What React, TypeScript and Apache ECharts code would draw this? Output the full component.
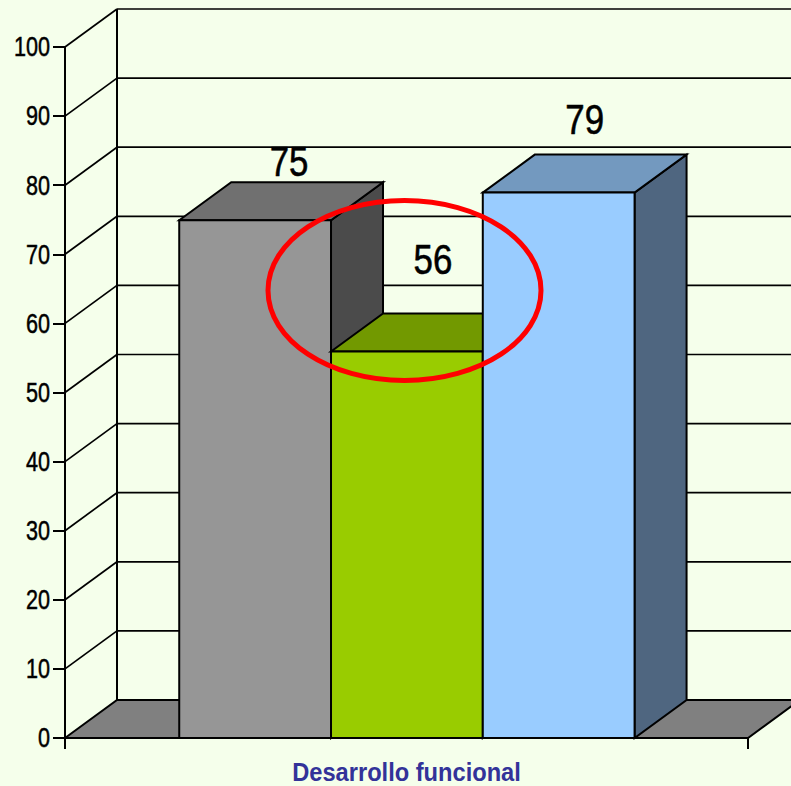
import React, { useEffect, useRef } from "react";
import * as echarts from "echarts";

const categories = ["Desarrollo funcional"];
const barValues = [75, 56, 79];
const yTicks = [0, 10, 20, 30, 40, 50, 60, 70, 80, 90, 100];
const frontColors = ["#969696", "#99CC00", "#99CCFF"];
const topColors = ["#707070", "#729900", "#7399BF"];
const sideColors = ["#4B4B4B", "#4C6600", "#4F6680"];
const labelShift = [[34, -59], [26, -92], [26, -73]];

const DX = 52;
const DY = -38;
const BG = "#F5FFEB";
const FONT = "'Liberation Sans', Arial, sans-serif";

export default function App() {
  const ref = useRef<HTMLDivElement>(null);
  useEffect(() => {
    document.body.style.margin = "0";
    document.body.style.background = BG;
    const chart = echarts.init(ref.current!, null, { renderer: "svg" });
    const line = { stroke: "#000", lineWidth: 1.7, fill: "none" };
    chart.setOption({
      animation: false,
      backgroundColor: BG,
      grid: { left: 65, right: 43, top: 47, bottom: 48, containLabel: false },
      xAxis: {
        type: "category",
        data: categories,
        z: 6,
        axisLine: { lineStyle: { color: "#000", width: 2 } },
        axisTick: { show: true, length: 11, lineStyle: { color: "#000", width: 2 } },
        axisLabel: { show: false },
        splitLine: { show: false },
      },
      yAxis: {
        type: "value",
        min: 0,
        max: 100,
        interval: 10,
        z: 6,
        axisLine: { show: true, lineStyle: { color: "#000", width: 2 } },
        axisTick: { show: true, length: 12, lineStyle: { color: "#000", width: 2 } },
        axisLabel: { show: false },
        splitLine: { show: false },
      },
      graphic: [
        {
          type: "ellipse",
          z: 100,
          shape: { cx: 404.5, cy: 290.5, rx: 136.5, ry: 90 },
          style: { fill: "transparent", stroke: "#FF0000", lineWidth: 5 },
        },
      ],
      series: [
        {
          type: "custom",
          z: 1,
          silent: true,
          data: yTicks.map((v) => [0, v]),
          renderItem: (params: any, api: any) => {
            const cs = params.coordSys;
            const v = api.value(1);
            const y = api.coord([0, v])[1];
            const children: any[] = [];
            if (v === 0) {
              children.push({
                type: "polygon",
                shape: {
                  points: [
                    [cs.x, y],
                    [cs.x + DX, y + DY],
                    [cs.x + cs.width + DX, y + DY],
                    [cs.x + cs.width, y],
                  ],
                },
                style: { fill: "#808080", stroke: "#000", lineWidth: 2 },
              });
            } else {
              children.push({
                type: "line",
                shape: { x1: cs.x, y1: y, x2: cs.x + DX, y2: y + DY },
                style: line,
              });
              children.push({
                type: "line",
                shape: { x1: cs.x + DX, y1: y + DY, x2: cs.x + cs.width + DX, y2: y + DY },
                style: line,
              });
            }
            if (v === 100) {
              children.push({
                type: "line",
                shape: { x1: cs.x + DX, y1: y + DY, x2: cs.x + DX, y2: cs.y + cs.height + DY },
                style: { ...line, lineWidth: 2 },
              });
            }
            children.push({
              type: "text",
              x: cs.x - 15,
              y,
              scaleX: 0.8,
              style: {
                text: String(v),
                x: 0,
                y: 0,
                align: "right",
                verticalAlign: "middle",
                fill: "#000",
                stroke: "#000",
                lineWidth: 0.5,
                font: `27px ${FONT}`,
              },
            });
            return { type: "group", children };
          },
        },
        {
          type: "custom",
          z: 3,
          silent: true,
          data: barValues.map((v) => [0, v]),
          renderItem: (params: any, api: any) => {
            const cs = params.coordSys;
            const i = params.dataIndex;
            const w = (cs.width * 2) / 9;
            const x0 = cs.x + cs.width / 6 + i * w + 0.4;
            const x1 = x0 + w;
            const top = api.coord([0, api.value(1)])[1] + 0.5;
            const bottom = api.coord([0, 0])[1];
            const edge = { stroke: "#000", lineWidth: 2 };
            return {
              type: "group",
              children: [
                {
                  type: "polygon",
                  shape: {
                    points: [
                      [x1, top],
                      [x1 + DX, top + DY],
                      [x1 + DX, bottom + DY],
                      [x1, bottom],
                    ],
                  },
                  style: { fill: sideColors[i], ...edge },
                },
                {
                  type: "polygon",
                  shape: {
                    points: [
                      [x0, top],
                      [x0 + DX, top + DY],
                      [x1 + DX, top + DY],
                      [x1, top],
                    ],
                  },
                  style: { fill: topColors[i], ...edge },
                },
                {
                  type: "rect",
                  shape: { x: x0, y: top, width: w, height: bottom - top },
                  style: { fill: frontColors[i], ...edge },
                },
                {
                  type: "text",
                  x: (x0 + x1) / 2 + labelShift[i][0],
                  y: top + labelShift[i][1],
                  scaleX: 0.83,
                  style: {
                    text: String(barValues[i]),
                    x: 0,
                    y: 0,
                    align: "center",
                    verticalAlign: "middle",
                    fill: "#000",
                    stroke: "#000",
                    lineWidth: 0.6,
                    font: `42px ${FONT}`,
                  },
                },
              ],
            };
          },
        },
        {
          type: "custom",
          z: 3,
          silent: true,
          data: categories.map((c, i) => [i, 0]),
          renderItem: (params: any, api: any) => {
            const p = api.coord([api.value(0), 0]);
            return {
              type: "text",
              x: p[0],
              y: p[1] + 34,
              scaleX: 0.91,
              style: {
                text: categories[params.dataIndex],
                x: 0,
                y: 0,
                align: "center",
                verticalAlign: "middle",
                fill: "#333399",
                font: `bold 26px ${FONT}`,
              },
            };
          },
        },
      ],
    });
    return () => chart.dispose();
  }, []);
  return (
    <div
      ref={ref}
      style={{ position: "absolute", left: 0, top: 0, width: 791, height: 786 }}
    />
  );
}
